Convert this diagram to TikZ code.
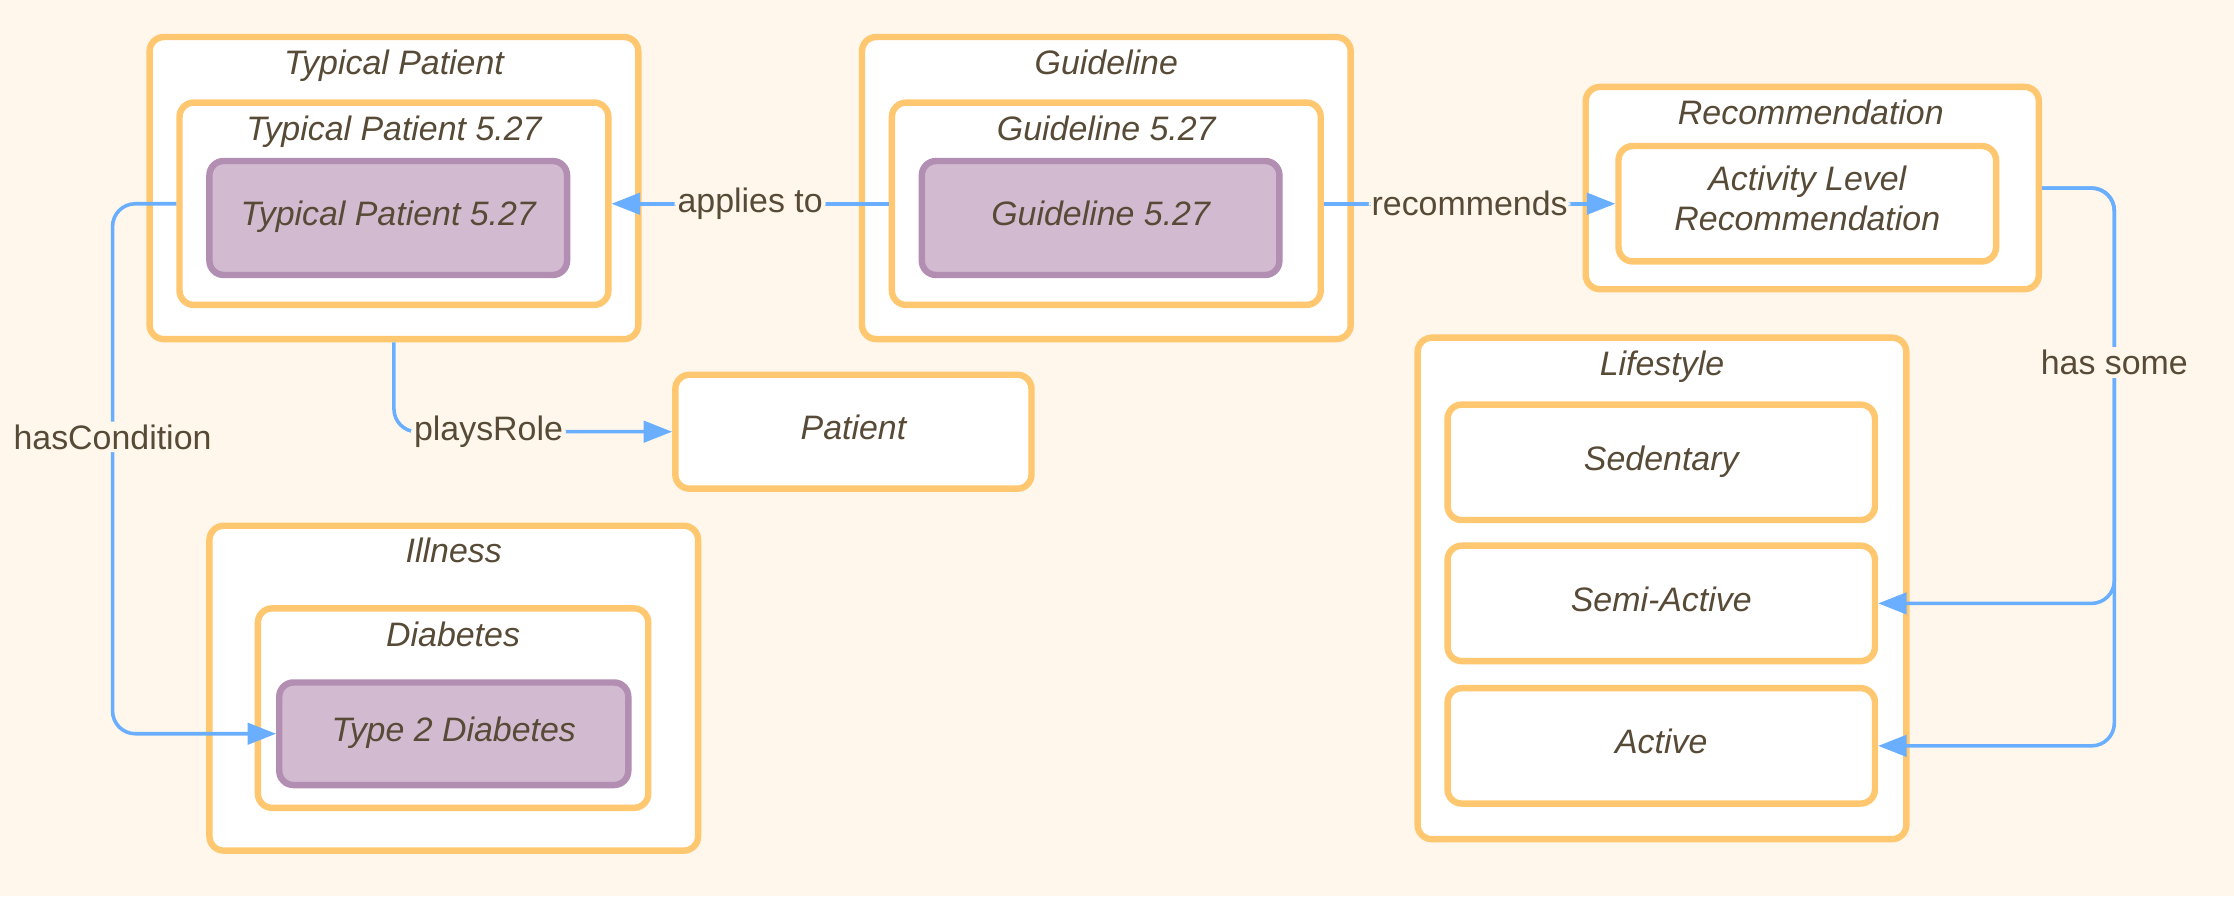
\documentclass[tikz,border=0pt]{standalone}
\usepackage{fontspec}
\setmainfont{Liberation Sans}
\usetikzlibrary{arrows.meta}
\definecolor{bg}{HTML}{FFF7EB}
\definecolor{ob}{HTML}{FFC870}
\definecolor{pf}{HTML}{D2BAD0}
\definecolor{pb}{HTML}{B28EB2}
\definecolor{tx}{HTML}{574A36}
\definecolor{bl}{HTML}{6AAFFF}
\begin{document}
\begin{tikzpicture}[x=1pt,y=-1pt,
  box/.style={draw=ob, line width=4.5pt, fill=white, rounded corners=10pt, inner sep=0pt, text=tx, font=\fontsize{23.8}{28.5}\selectfont\itshape, align=center},
  pbox/.style={draw=pb, line width=4.5pt, fill=pf, rounded corners=10pt, inner sep=0pt, text=tx, font=\fontsize{23.8}{28.5}\selectfont\itshape},
  oneline/.style={text height=17pt, text depth=6pt},
  ttl/.style={text=tx, font=\fontsize{23.8}{28.5}\selectfont\itshape, inner sep=0pt, text height=17pt, text depth=6pt},
  lbl/.style={text=tx, font=\fontsize{23.8}{28.5}\selectfont, fill=bg, inner sep=2pt},
  arr/.style={draw=bl, line width=2.5pt, -{Triangle[length=20pt,width=15pt]}, rounded corners=16pt},
]
\fill[bg] (0,0) rectangle (1568,629);
\useasboundingbox (0,0) rectangle (1568,629);

% Typical Patient
\node[box, minimum width=343pt, minimum height=212pt] (tpo) at (276.5,132) {};
\node[ttl] (tpot) at (276.5,47) {Typical Patient};
\node[box, minimum width=301pt, minimum height=142pt] (tpm) at (276.5,143) {};
\node[ttl] (tpmt) at (276.5,93) {Typical Patient 5.27};
\node[pbox, oneline, minimum width=251pt, minimum height=80pt] (tpi) at (272.5,153) {Typical Patient 5.27};

% Guideline
\node[box, minimum width=343pt, minimum height=212pt] (go) at (776.5,132) {};
\node[ttl] (got) at (776.5,47) {Guideline};
\node[box, minimum width=301pt, minimum height=142pt] (gm) at (776.5,143) {};
\node[ttl] (gmt) at (776.5,93) {Guideline 5.27};
\node[pbox, oneline, minimum width=251pt, minimum height=80pt] (gi) at (772.5,153) {Guideline 5.27};

% Recommendation
\node[box, minimum width=318pt, minimum height=142pt] (reco) at (1272,132) {};
\node[ttl] (recot) at (1271,82) {Recommendation};
\node[box, text depth=8pt, minimum width=265pt, minimum height=81pt] (alr) at (1268.5,143) {Activity Level\\Recommendation};

% Patient
\node[box, oneline, minimum width=250pt, minimum height=80pt] (pat) at (599,303) {Patient};

% Illness
\node[box, minimum width=343pt, minimum height=228pt] (ill) at (318.5,483) {};
\node[ttl] (illt) at (318.5,389) {Illness};
\node[box, minimum width=274pt, minimum height=140pt] (dia) at (318,497) {};
\node[ttl] (diat) at (318,448) {Diabetes};
\node[pbox, oneline, minimum width=245pt, minimum height=72pt] (t2d) at (318.5,515) {Type 2 Diabetes};

% Lifestyle
\node[box, minimum width=343pt, minimum height=352pt] (life) at (1166.5,413) {};
\node[ttl] (lifet) at (1166.5,258) {Lifestyle};
\node[box, oneline, minimum width=300pt, minimum height=81pt] (sed) at (1166,324.5) {Sedentary};
\node[box, oneline, minimum width=300pt, minimum height=81pt] (semi) at (1166,423.5) {Semi-Active};
\node[box, oneline, minimum width=300pt, minimum height=81pt] (act) at (1166,523.5) {Active};

% connectors
\coordinate (hcx) at (79,0);
\coordinate (hsx) at (1484,0);
\draw[arr] (gm.west) -- node[lbl]{applies to} (tpm.east);
\draw[arr] (gm.east) -- node[lbl]{recommends} (alr.west);
\draw[arr] (tpo.south) |- node[lbl,pos=0.67]{playsRole} (pat.west);
\draw[arr] (tpm.west) -- (tpm.west -| hcx) |- node[lbl,pos=0.22]{hasCondition} (t2d.west);
\draw[arr] (reco.east) -- (reco.east -| hsx) |- (act.east);
\draw[arr] (reco.east) -- (reco.east -| hsx) |- node[lbl,pos=0.21]{has some} (semi.east);
\end{tikzpicture}
\end{document}
